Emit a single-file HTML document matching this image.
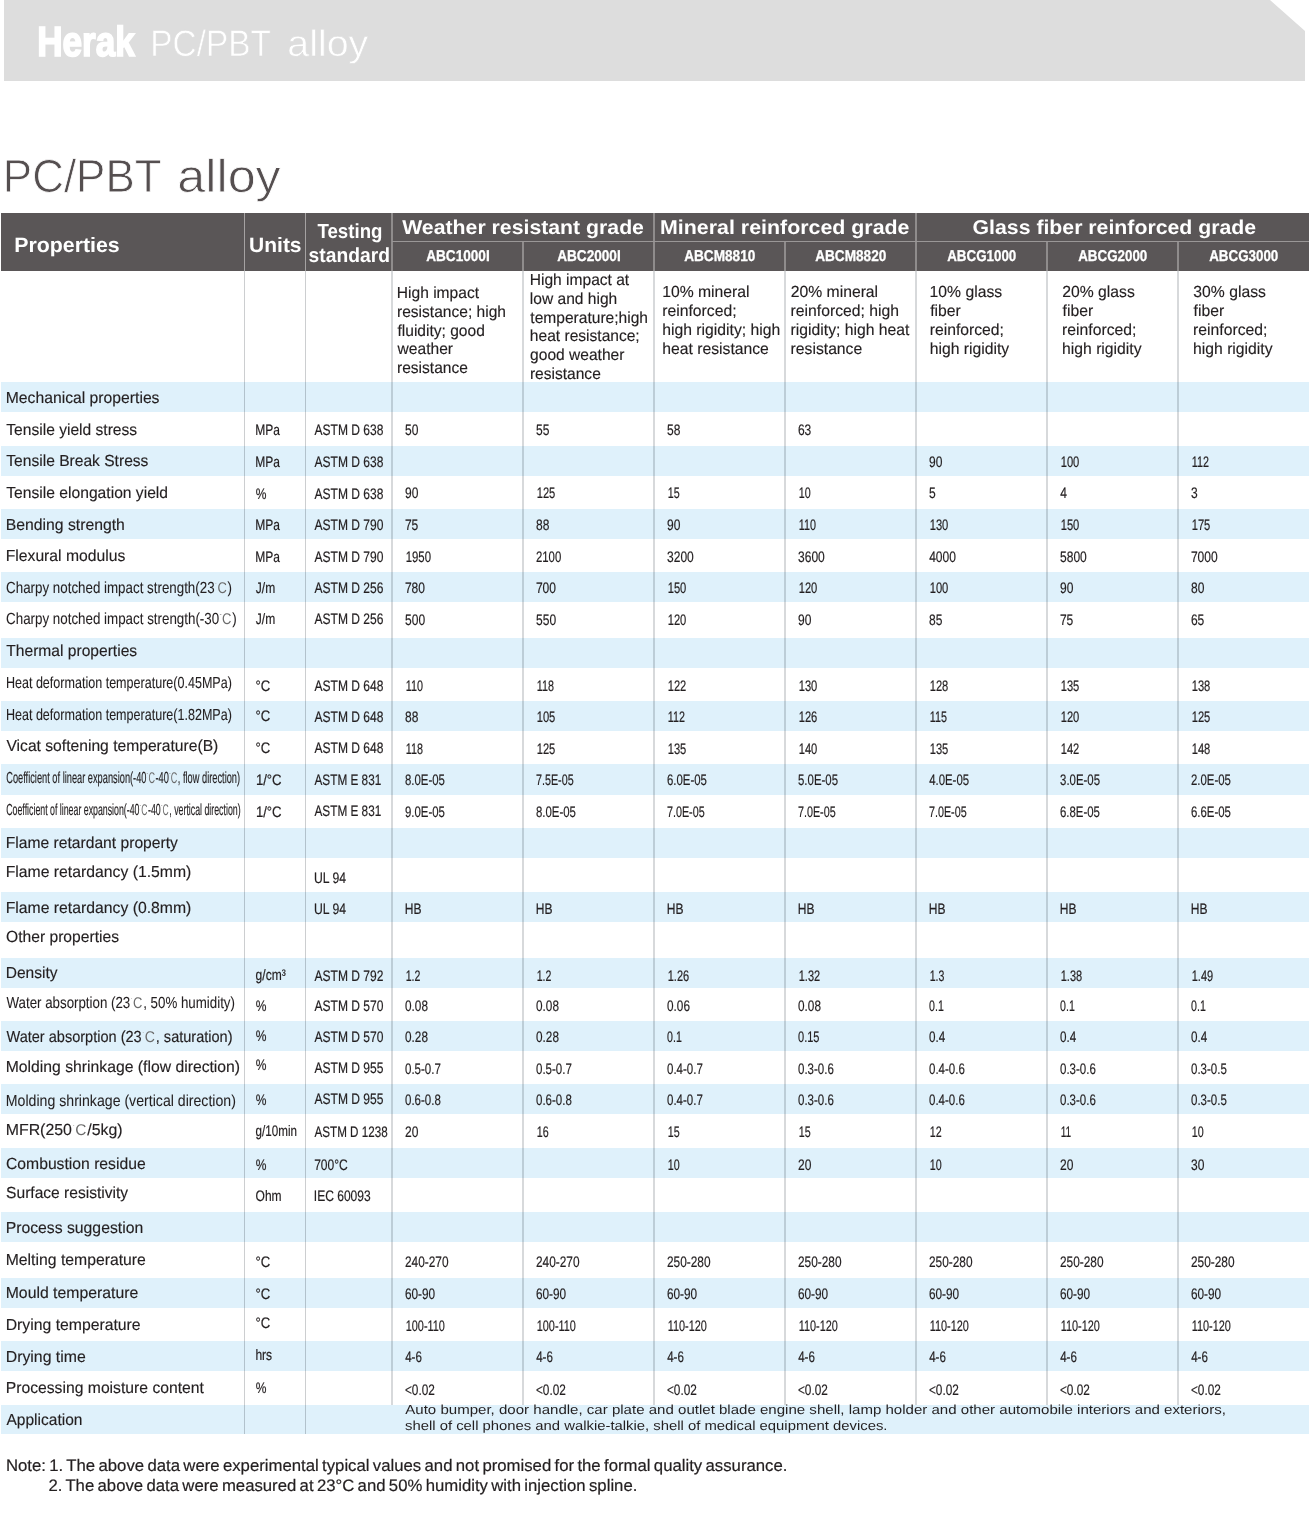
<!DOCTYPE html>
<html lang="en"><head><meta charset="utf-8"><title>Herak PC/PBT alloy</title>
<style>
html,body{margin:0;padding:0;background:#fff;}
body{position:relative;width:1310px;height:1519px;overflow:hidden;font-family:"Liberation Sans",sans-serif;color:#231f20;}
header,h1,section,footer,.thead,.row{display:block;margin:0;padding:0;font-weight:normal;font-size:16px;}
.t{position:absolute;white-space:nowrap;line-height:1;transform-origin:0 0;text-rendering:geometricPrecision;font-family:"Liberation Sans",sans-serif;}
.dc{position:relative;display:inline-block;color:#6a6a6a;font-size:.97em;padding:0 .06em 0 .22em;-webkit-text-stroke:0;font-family:"Liberation Sans",sans-serif;}
.dc i{position:absolute;left:.06em;top:.12em;width:1.4px;height:1.4px;border-radius:1px;background:#aaa;}
.n{font-size:16px;-webkit-text-stroke:0.15px #231f20;}
.c{font-size:15.2px;-webkit-text-stroke:0.2px #231f20;}
.w{color:#fff;}
.b{font-weight:bold;}
.banner{position:absolute;left:4px;top:0;width:1301px;height:81px;background:#dddddd;clip-path:polygon(0 0,1266px 0,1301px 31px,1301px 81px,0 81px);}
.hdr{position:absolute;left:1px;top:213px;width:1308px;height:58px;background:#5a5657;}
.band{position:absolute;left:1px;width:1308px;background:#dff1fb;}
.vl{position:absolute;width:2px;background:#d7d9db;mix-blend-mode:multiply;}
.hl{position:absolute;height:1px;background:#9a9797;}
.hv{position:absolute;width:2px;background:#8f8c8c;}
</style></head><body>
<header><div class="banner"></div>
<span class="t w b" style="left:37px;top:21px;transform:translateX(0.19px) scaleX(0.8369);font-size:42.0px;-webkit-text-stroke:1.7px #fff;">Herak</span>
<span class="t" style="left:150px;top:25px;transform:translateX(0.36px) scaleX(0.9009);font-size:37px;color:#ffffff;-webkit-text-stroke:0.6px #ddd;">PC/PBT</span>
<span class="t" style="left:287px;top:25px;transform:translateX(0.30px) scaleX(1.0636);font-size:37px;color:#ffffff;-webkit-text-stroke:0.6px #ddd;">alloy</span>
</header>
<h1><span class="t" style="left:2px;top:153px;transform:translateX(0.84px) scaleX(0.9472);font-size:46.4px;color:#554f50;-webkit-text-stroke:0.8px #fff;">PC/PBT</span><span class="t" style="left:177px;top:153px;transform:translateX(0.32px) scaleX(1.0840);font-size:46.4px;color:#554f50;-webkit-text-stroke:0.8px #fff;">alloy</span></h1>
<section class="table">
<div class="band" style="top:382px;height:30px"></div>
<div class="band" style="top:446px;height:30px"></div>
<div class="band" style="top:509px;height:30px"></div>
<div class="band" style="top:572px;height:30px"></div>
<div class="band" style="top:638px;height:30px"></div>
<div class="band" style="top:701px;height:30px"></div>
<div class="band" style="top:764px;height:31px"></div>
<div class="band" style="top:828px;height:30px"></div>
<div class="band" style="top:892px;height:30px"></div>
<div class="band" style="top:958px;height:30px"></div>
<div class="band" style="top:1021px;height:30px"></div>
<div class="band" style="top:1084px;height:30px"></div>
<div class="band" style="top:1148px;height:30px"></div>
<div class="band" style="top:1212px;height:30px"></div>
<div class="band" style="top:1278px;height:30px"></div>
<div class="band" style="top:1341px;height:30px"></div>
<div class="band" style="top:1405px;height:29px"></div>
<div class="thead"><div class="hdr"></div>
<div class="hv" style="left:244px;width:1px;background:#a5a2a2;top:213px;height:58px"></div>
<div class="hv" style="left:305px;width:1px;background:#a5a2a2;top:213px;height:58px"></div>
<div class="hv" style="left:391px;top:213px;height:58px"></div>
<div class="hv" style="left:522px;top:242px;height:29px"></div>
<div class="hv" style="left:653px;top:213px;height:58px"></div>
<div class="hv" style="left:784px;top:242px;height:29px"></div>
<div class="hv" style="left:915px;top:213px;height:58px"></div>
<div class="hv" style="left:1046px;top:242px;height:29px"></div>
<div class="hv" style="left:1177px;top:242px;height:29px"></div>
<div class="hl" style="left:392px;top:241px;width:917px"></div>
<span class="t w b" style="left:14px;top:236px;transform:translateX(0.14px) scaleX(1.0265);font-size:20.8px;">Properties</span>
<span class="t w b" style="left:249px;top:236px;transform:translateX(0.04px) scaleX(1.0101);font-size:20.8px;">Units</span>
<span class="t w b" style="left:317px;top:222px;transform:translateX(0.47px) scaleX(0.9149);font-size:20.4px;">Testing</span>
<span class="t w b" style="left:308px;top:246px;transform:translateX(0.59px) scaleX(0.9445);font-size:20.4px;">standard</span>
<span class="t w b" style="left:402px;top:219px;transform:translateX(0.19px) scaleX(1.0685);font-size:19.9px;">Weather resistant grade</span>
<span class="t w b" style="left:660px;top:219px;transform:translateX(0.04px) scaleX(1.0747);font-size:19.9px;">Mineral reinforced grade</span>
<span class="t w b" style="left:972px;top:219px;transform:translateX(0.58px) scaleX(1.0685);font-size:19.9px;">Glass fiber reinforced grade</span>
<span class="t w b" style="left:426px;top:249px;transform:translateX(0.15px) scaleX(0.8728);font-size:15.6px;-webkit-text-stroke:0.3px #fff;">ABC1000I</span>
<span class="t w b" style="left:557px;top:249px;transform:translateX(0.15px) scaleX(0.8728);font-size:15.6px;-webkit-text-stroke:0.3px #fff;">ABC2000I</span>
<span class="t w b" style="left:684px;top:249px;transform:translateX(0.15px) scaleX(0.8739);font-size:15.6px;-webkit-text-stroke:0.3px #fff;">ABCM8810</span>
<span class="t w b" style="left:815px;top:249px;transform:translateX(0.15px) scaleX(0.8739);font-size:15.6px;-webkit-text-stroke:0.3px #fff;">ABCM8820</span>
<span class="t w b" style="left:947px;top:249px;transform:translateX(0.20px) scaleX(0.8570);font-size:15.6px;-webkit-text-stroke:0.3px #fff;">ABCG1000</span>
<span class="t w b" style="left:1078px;top:249px;transform:translateX(0.20px) scaleX(0.8570);font-size:15.6px;-webkit-text-stroke:0.3px #fff;">ABCG2000</span>
<span class="t w b" style="left:1209px;top:249px;transform:translateX(0.20px) scaleX(0.8570);font-size:15.6px;-webkit-text-stroke:0.3px #fff;">ABCG3000</span>
</div>
<div class="vl" style="left:244px;width:1px;background:#cccED0;top:271px;height:1163px"></div>
<div class="vl" style="left:305px;width:1px;background:#cccED0;top:271px;height:1163px"></div>
<div class="vl" style="left:391px;top:271px;height:1134px"></div>
<div class="vl" style="left:522px;top:271px;height:1134px"></div>
<div class="vl" style="left:653px;top:271px;height:1134px"></div>
<div class="vl" style="left:784px;top:271px;height:1134px"></div>
<div class="vl" style="left:915px;top:271px;height:1134px"></div>
<div class="vl" style="left:1046px;top:271px;height:1134px"></div>
<div class="vl" style="left:1177px;top:271px;height:1134px"></div>
<div class="row"><span class="t n" style="left:396px;top:286px;transform:translateX(0.83px) scaleX(0.9725);">High impact</span><span class="t n" style="left:396px;top:305px;transform:translateX(0.98px) scaleX(0.9725);">resistance; high</span><span class="t n" style="left:397px;top:324px;transform:translateX(0.47px) scaleX(0.9725);">fluidity; good</span><span class="t n" style="left:397px;top:342px;transform:translateX(0.61px) scaleX(0.9725);">weather</span><span class="t n" style="left:396px;top:361px;transform:translateX(0.98px) scaleX(0.9725);">resistance</span><span class="t n" style="left:529px;top:273px;transform:translateX(0.73px) scaleX(0.9725);">High impact at</span><span class="t n" style="left:529px;top:292px;transform:translateX(0.87px) scaleX(0.9725);">low and high</span><span class="t n" style="left:530px;top:311px;transform:translateX(0.36px) scaleX(0.9725);">temperature;high</span><span class="t n" style="left:529px;top:329px;transform:translateX(0.85px) scaleX(0.9725);">heat resistance;</span><span class="t n" style="left:530px;top:348px;transform:translateX(0.11px) scaleX(0.9725);">good weather</span><span class="t n" style="left:529px;top:367px;transform:translateX(0.88px) scaleX(0.9725);">resistance</span><span class="t n" style="left:662px;top:285px;transform:translateX(0.18px) scaleX(0.9825);">10% mineral</span><span class="t n" style="left:662px;top:304px;transform:translateX(0.27px) scaleX(0.9825);">reinforced;</span><span class="t n" style="left:662px;top:323px;transform:translateX(0.25px) scaleX(0.9825);">high rigidity; high</span><span class="t n" style="left:662px;top:342px;transform:translateX(0.25px) scaleX(0.9825);">heat resistance</span><span class="t n" style="left:790px;top:285px;transform:translateX(0.73px) scaleX(0.9825);">20% mineral</span><span class="t n" style="left:790px;top:304px;transform:translateX(0.57px) scaleX(0.9825);">reinforced; high</span><span class="t n" style="left:790px;top:323px;transform:translateX(0.57px) scaleX(0.9825);">rigidity; high heat</span><span class="t n" style="left:790px;top:342px;transform:translateX(0.57px) scaleX(0.9825);">resistance</span><span class="t n" style="left:929px;top:285px;transform:translateX(0.58px) scaleX(0.9825);">10% glass</span><span class="t n" style="left:930px;top:304px;transform:translateX(0.17px) scaleX(0.9825);">fiber</span><span class="t n" style="left:929px;top:323px;transform:translateX(0.67px) scaleX(0.9825);">reinforced;</span><span class="t n" style="left:929px;top:342px;transform:translateX(0.65px) scaleX(0.9825);">high rigidity</span><span class="t n" style="left:1062px;top:285px;transform:translateX(0.23px) scaleX(0.9825);">20% glass</span><span class="t n" style="left:1062px;top:304px;transform:translateX(0.57px) scaleX(0.9825);">fiber</span><span class="t n" style="left:1062px;top:323px;transform:translateX(0.07px) scaleX(0.9825);">reinforced;</span><span class="t n" style="left:1062px;top:342px;transform:translateX(0.05px) scaleX(0.9825);">high rigidity</span><span class="t n" style="left:1193px;top:285px;transform:translateX(0.34px) scaleX(0.9825);">30% glass</span><span class="t n" style="left:1193px;top:304px;transform:translateX(0.57px) scaleX(0.9825);">fiber</span><span class="t n" style="left:1193px;top:323px;transform:translateX(0.07px) scaleX(0.9825);">reinforced;</span><span class="t n" style="left:1193px;top:342px;transform:translateX(0.05px) scaleX(0.9825);">high rigidity</span></div>
<div class="row"><span class="t n" style="left:5px;top:391px;transform:translateX(0.73px) scaleX(0.9823);">Mechanical properties</span></div>
<div class="row"><span class="t n" style="left:6px;top:423px;transform:translateX(0.29px) scaleX(0.9742);">Tensile yield stress</span><span class="t c" style="left:255px;top:423px;transform:translateX(0.31px) scaleX(0.7924);">MPa</span><span class="t c" style="left:314px;top:423px;transform:translateX(0.49px) scaleX(0.7925);">ASTM D 638</span><span class="t c" style="left:405px;top:423px;transform:translateX(0.01px) scaleX(0.7920);">50</span><span class="t c" style="left:536px;top:423px;transform:translateX(0.01px) scaleX(0.7920);">55</span><span class="t c" style="left:667px;top:423px;transform:translateX(0.01px) scaleX(0.7920);">58</span><span class="t c" style="left:797px;top:423px;transform:translateX(0.93px) scaleX(0.7920);">63</span></div>
<div class="row"><span class="t n" style="left:6px;top:454px;transform:translateX(0.29px) scaleX(0.9744);">Tensile Break Stress</span><span class="t c" style="left:255px;top:455px;transform:translateX(0.31px) scaleX(0.7924);">MPa</span><span class="t c" style="left:314px;top:455px;transform:translateX(0.49px) scaleX(0.7925);">ASTM D 638</span><span class="t c" style="left:928px;top:455px;transform:translateX(0.96px) scaleX(0.7920);">90</span><span class="t c" style="left:1060px;top:455px;transform:translateX(0.69px) scaleX(0.7352);">100</span><span class="t c" style="left:1191px;top:455px;transform:translateX(0.71px) scaleX(0.7094);">112</span></div>
<div class="row"><span class="t n" style="left:6px;top:486px;transform:translateX(0.29px) scaleX(0.9777);">Tensile elongation yield</span><span class="t c" style="left:255px;top:487px;transform:translateX(0.64px) scaleX(0.7918);">%</span><span class="t c" style="left:314px;top:487px;transform:translateX(0.49px) scaleX(0.7925);">ASTM D 638</span><span class="t c" style="left:404px;top:486px;transform:translateX(0.96px) scaleX(0.7920);">90</span><span class="t c" style="left:536px;top:486px;transform:translateX(0.69px) scaleX(0.7352);">125</span><span class="t c" style="left:667px;top:486px;transform:translateX(0.71px) scaleX(0.7061);">15</span><span class="t c" style="left:798px;top:486px;transform:translateX(0.71px) scaleX(0.7061);">10</span><span class="t c" style="left:929px;top:486px;transform:translateX(0.01px) scaleX(0.7920);">5</span><span class="t c" style="left:1060px;top:486px;transform:translateX(0.13px) scaleX(0.7920);">4</span><span class="t c" style="left:1191px;top:486px;transform:translateX(0.02px) scaleX(0.7920);">3</span></div>
<div class="row"><span class="t n" style="left:5px;top:518px;transform:translateX(0.72px) scaleX(0.9846);">Bending strength</span><span class="t c" style="left:255px;top:518px;transform:translateX(0.31px) scaleX(0.7924);">MPa</span><span class="t c" style="left:314px;top:518px;transform:translateX(0.49px) scaleX(0.7925);">ASTM D 790</span><span class="t c" style="left:404px;top:518px;transform:translateX(0.93px) scaleX(0.7920);">75</span><span class="t c" style="left:535px;top:518px;transform:translateX(0.99px) scaleX(0.7920);">88</span><span class="t c" style="left:666px;top:518px;transform:translateX(0.96px) scaleX(0.7920);">90</span><span class="t c" style="left:798px;top:518px;transform:translateX(0.71px) scaleX(0.7094);">110</span><span class="t c" style="left:929px;top:518px;transform:translateX(0.69px) scaleX(0.7352);">130</span><span class="t c" style="left:1060px;top:518px;transform:translateX(0.69px) scaleX(0.7352);">150</span><span class="t c" style="left:1191px;top:518px;transform:translateX(0.69px) scaleX(0.7352);">175</span></div>
<div class="row"><span class="t n" style="left:5px;top:549px;transform:translateX(0.73px) scaleX(0.9813);">Flexural modulus</span><span class="t c" style="left:255px;top:550px;transform:translateX(0.31px) scaleX(0.7924);">MPa</span><span class="t c" style="left:314px;top:550px;transform:translateX(0.49px) scaleX(0.7925);">ASTM D 790</span><span class="t c" style="left:405px;top:550px;transform:translateX(0.68px) scaleX(0.7494);">1950</span><span class="t c" style="left:535px;top:550px;transform:translateX(0.96px) scaleX(0.7494);">2100</span><span class="t c" style="left:667px;top:550px;transform:translateX(0.02px) scaleX(0.7923);">3200</span><span class="t c" style="left:798px;top:550px;transform:translateX(0.02px) scaleX(0.7923);">3600</span><span class="t c" style="left:929px;top:550px;transform:translateX(0.13px) scaleX(0.7923);">4000</span><span class="t c" style="left:1060px;top:550px;transform:translateX(0.01px) scaleX(0.7923);">5800</span><span class="t c" style="left:1190px;top:550px;transform:translateX(0.93px) scaleX(0.7923);">7000</span></div>
<div class="row"><span class="t n" style="left:6px;top:581px;transform:translateX(0.09px) scaleX(0.8342);-webkit-text-stroke:0.07px #231f20;">Charpy notched impact strength(23<span class="dc"><i></i>C</span>)</span><span class="t c" style="left:255px;top:581px;transform:translateX(0.79px) scaleX(0.7924);">J/m</span><span class="t c" style="left:314px;top:581px;transform:translateX(0.49px) scaleX(0.7925);">ASTM D 256</span><span class="t c" style="left:404px;top:581px;transform:translateX(0.93px) scaleX(0.7924);">780</span><span class="t c" style="left:535px;top:581px;transform:translateX(0.93px) scaleX(0.7924);">700</span><span class="t c" style="left:667px;top:581px;transform:translateX(0.69px) scaleX(0.7352);">150</span><span class="t c" style="left:798px;top:581px;transform:translateX(0.69px) scaleX(0.7352);">120</span><span class="t c" style="left:929px;top:581px;transform:translateX(0.69px) scaleX(0.7352);">100</span><span class="t c" style="left:1059px;top:581px;transform:translateX(0.96px) scaleX(0.7920);">90</span><span class="t c" style="left:1190px;top:581px;transform:translateX(0.99px) scaleX(0.7920);">80</span></div>
<div class="row"><span class="t n" style="left:6px;top:612px;transform:translateX(0.09px) scaleX(0.8348);-webkit-text-stroke:0.07px #231f20;">Charpy notched impact strength(-30<span class="dc"><i></i>C</span>)</span><span class="t c" style="left:255px;top:612px;transform:translateX(0.79px) scaleX(0.7924);">J/m</span><span class="t c" style="left:314px;top:612px;transform:translateX(0.49px) scaleX(0.7925);">ASTM D 256</span><span class="t c" style="left:405px;top:613px;transform:translateX(0.01px) scaleX(0.7924);">500</span><span class="t c" style="left:536px;top:613px;transform:translateX(0.01px) scaleX(0.7924);">550</span><span class="t c" style="left:667px;top:613px;transform:translateX(0.69px) scaleX(0.7352);">120</span><span class="t c" style="left:797px;top:613px;transform:translateX(0.96px) scaleX(0.7920);">90</span><span class="t c" style="left:928px;top:613px;transform:translateX(0.99px) scaleX(0.7920);">85</span><span class="t c" style="left:1059px;top:613px;transform:translateX(0.93px) scaleX(0.7920);">75</span><span class="t c" style="left:1190px;top:613px;transform:translateX(0.93px) scaleX(0.7920);">65</span></div>
<div class="row"><span class="t n" style="left:6px;top:644px;transform:translateX(0.29px) scaleX(0.9742);">Thermal properties</span></div>
<div class="row"><span class="t n" style="left:5px;top:676px;transform:translateX(0.88px) scaleX(0.7844);-webkit-text-stroke:0.09px #231f20;">Heat deformation temperature(0.45MPa)</span><span class="t c" style="left:255px;top:679px;transform:translateX(0.43px) scaleX(0.8610);">°C</span><span class="t c" style="left:314px;top:679px;transform:translateX(0.49px) scaleX(0.7925);">ASTM D 648</span><span class="t c" style="left:405px;top:679px;transform:translateX(0.71px) scaleX(0.7094);">110</span><span class="t c" style="left:536px;top:679px;transform:translateX(0.71px) scaleX(0.7094);">118</span><span class="t c" style="left:667px;top:679px;transform:translateX(0.69px) scaleX(0.7352);">122</span><span class="t c" style="left:798px;top:679px;transform:translateX(0.69px) scaleX(0.7352);">130</span><span class="t c" style="left:929px;top:679px;transform:translateX(0.69px) scaleX(0.7352);">128</span><span class="t c" style="left:1060px;top:679px;transform:translateX(0.69px) scaleX(0.7352);">135</span><span class="t c" style="left:1191px;top:679px;transform:translateX(0.69px) scaleX(0.7352);">138</span></div>
<div class="row"><span class="t n" style="left:5px;top:708px;transform:translateX(0.88px) scaleX(0.7844);-webkit-text-stroke:0.09px #231f20;">Heat deformation temperature(1.82MPa)</span><span class="t c" style="left:255px;top:709px;transform:translateX(0.43px) scaleX(0.8610);">°C</span><span class="t c" style="left:314px;top:710px;transform:translateX(0.49px) scaleX(0.7925);">ASTM D 648</span><span class="t c" style="left:404px;top:710px;transform:translateX(0.99px) scaleX(0.7920);">88</span><span class="t c" style="left:536px;top:710px;transform:translateX(0.69px) scaleX(0.7352);">105</span><span class="t c" style="left:667px;top:710px;transform:translateX(0.71px) scaleX(0.7094);">112</span><span class="t c" style="left:798px;top:710px;transform:translateX(0.69px) scaleX(0.7352);">126</span><span class="t c" style="left:929px;top:710px;transform:translateX(0.71px) scaleX(0.7094);">115</span><span class="t c" style="left:1060px;top:710px;transform:translateX(0.69px) scaleX(0.7352);">120</span><span class="t c" style="left:1191px;top:710px;transform:translateX(0.69px) scaleX(0.7352);">125</span></div>
<div class="row"><span class="t n" style="left:6px;top:739px;transform:translateX(0.46px) scaleX(0.9776);">Vicat softening temperature(B)</span><span class="t c" style="left:255px;top:741px;transform:translateX(0.43px) scaleX(0.8610);">°C</span><span class="t c" style="left:314px;top:741px;transform:translateX(0.49px) scaleX(0.7925);">ASTM D 648</span><span class="t c" style="left:405px;top:742px;transform:translateX(0.71px) scaleX(0.7094);">118</span><span class="t c" style="left:536px;top:742px;transform:translateX(0.69px) scaleX(0.7352);">125</span><span class="t c" style="left:667px;top:742px;transform:translateX(0.69px) scaleX(0.7352);">135</span><span class="t c" style="left:798px;top:742px;transform:translateX(0.69px) scaleX(0.7352);">140</span><span class="t c" style="left:929px;top:742px;transform:translateX(0.69px) scaleX(0.7352);">135</span><span class="t c" style="left:1060px;top:742px;transform:translateX(0.69px) scaleX(0.7352);">142</span><span class="t c" style="left:1191px;top:742px;transform:translateX(0.69px) scaleX(0.7352);">148</span></div>
<div class="row"><span class="t n" style="left:6px;top:771px;transform:translateX(0.22px) scaleX(0.5784);-webkit-text-stroke:0.17px #231f20;">Coefficient of linear expansion(-40<span class="dc"><i></i>C</span>-40<span class="dc"><i></i>C</span>, flow direction)</span><span class="t c" style="left:255px;top:773px;transform:translateX(0.90px) scaleX(0.8648);">1/°C</span><span class="t c" style="left:314px;top:773px;transform:translateX(0.49px) scaleX(0.7756);">ASTM E 831</span><span class="t c" style="left:405px;top:773px;transform:translateX(0.00px) scaleX(0.7508);">8.0E-05</span><span class="t c" style="left:535px;top:773px;transform:translateX(0.97px) scaleX(0.7076);">7.5E-05</span><span class="t c" style="left:666px;top:773px;transform:translateX(0.95px) scaleX(0.7508);">6.0E-05</span><span class="t c" style="left:798px;top:773px;transform:translateX(0.03px) scaleX(0.7508);">5.0E-05</span><span class="t c" style="left:929px;top:773px;transform:translateX(0.14px) scaleX(0.7508);">4.0E-05</span><span class="t c" style="left:1060px;top:773px;transform:translateX(0.04px) scaleX(0.7508);">3.0E-05</span><span class="t c" style="left:1190px;top:773px;transform:translateX(0.96px) scaleX(0.7508);">2.0E-05</span></div>
<div class="row"><span class="t n" style="left:6px;top:803px;transform:translateX(0.23px) scaleX(0.5495);-webkit-text-stroke:0.18px #231f20;">Coefficient of linear expansion(-40<span class="dc"><i></i>C</span>-40<span class="dc"><i></i>C</span>, vertical direction)</span><span class="t c" style="left:255px;top:805px;transform:translateX(0.90px) scaleX(0.8648);">1/°C</span><span class="t c" style="left:314px;top:804px;transform:translateX(0.49px) scaleX(0.7756);">ASTM E 831</span><span class="t c" style="left:404px;top:805px;transform:translateX(0.98px) scaleX(0.7508);">9.0E-05</span><span class="t c" style="left:536px;top:805px;transform:translateX(0.00px) scaleX(0.7508);">8.0E-05</span><span class="t c" style="left:666px;top:805px;transform:translateX(0.97px) scaleX(0.7076);">7.0E-05</span><span class="t c" style="left:797px;top:805px;transform:translateX(0.97px) scaleX(0.7076);">7.0E-05</span><span class="t c" style="left:928px;top:805px;transform:translateX(0.97px) scaleX(0.7076);">7.0E-05</span><span class="t c" style="left:1059px;top:805px;transform:translateX(0.95px) scaleX(0.7508);">6.8E-05</span><span class="t c" style="left:1190px;top:805px;transform:translateX(0.95px) scaleX(0.7508);">6.6E-05</span></div>
<div class="row"><span class="t n" style="left:5px;top:836px;transform:translateX(0.73px) scaleX(0.9775);">Flame retardant property</span></div>
<div class="row"><span class="t n" style="left:5px;top:865px;transform:translateX(0.72px) scaleX(0.9845);">Flame retardancy (1.5mm)</span><span class="t c" style="left:313px;top:871px;transform:translateX(0.93px) scaleX(0.8036);">UL 94</span></div>
<div class="row"><span class="t n" style="left:5px;top:901px;transform:translateX(0.72px) scaleX(0.9845);">Flame retardancy (0.8mm)</span><span class="t c" style="left:313px;top:902px;transform:translateX(0.93px) scaleX(0.8036);">UL 94</span><span class="t c" style="left:404px;top:902px;transform:translateX(0.71px) scaleX(0.7920);">HB</span><span class="t c" style="left:535px;top:902px;transform:translateX(0.71px) scaleX(0.7920);">HB</span><span class="t c" style="left:666px;top:902px;transform:translateX(0.71px) scaleX(0.7920);">HB</span><span class="t c" style="left:797px;top:902px;transform:translateX(0.71px) scaleX(0.7920);">HB</span><span class="t c" style="left:928px;top:902px;transform:translateX(0.71px) scaleX(0.7920);">HB</span><span class="t c" style="left:1059px;top:902px;transform:translateX(0.71px) scaleX(0.7920);">HB</span><span class="t c" style="left:1190px;top:902px;transform:translateX(0.71px) scaleX(0.7920);">HB</span></div>
<div class="row"><span class="t n" style="left:6px;top:930px;transform:translateX(0.06px) scaleX(0.9766);">Other properties</span></div>
<div class="row"><span class="t n" style="left:5px;top:966px;transform:translateX(0.74px) scaleX(0.9709);">Density</span><span class="t c" style="left:255px;top:968px;transform:translateX(0.60px) scaleX(0.7926);">g/cm³</span><span class="t c" style="left:314px;top:969px;transform:translateX(0.49px) scaleX(0.7925);">ASTM D 792</span><span class="t c" style="left:405px;top:969px;transform:translateX(0.71px) scaleX(0.6986);">1.2</span><span class="t c" style="left:536px;top:969px;transform:translateX(0.71px) scaleX(0.6986);">1.2</span><span class="t c" style="left:667px;top:969px;transform:translateX(0.70px) scaleX(0.7257);">1.26</span><span class="t c" style="left:798px;top:969px;transform:translateX(0.70px) scaleX(0.7257);">1.32</span><span class="t c" style="left:929px;top:969px;transform:translateX(0.71px) scaleX(0.6986);">1.3</span><span class="t c" style="left:1060px;top:969px;transform:translateX(0.70px) scaleX(0.7257);">1.38</span><span class="t c" style="left:1191px;top:969px;transform:translateX(0.70px) scaleX(0.7257);">1.49</span></div>
<div class="row"><span class="t n" style="left:6px;top:996px;transform:translateX(0.46px) scaleX(0.8320);-webkit-text-stroke:0.07px #231f20;">Water absorption (23<span class="dc"><i></i>C</span>, 50% humidity)</span><span class="t c" style="left:255px;top:999px;transform:translateX(0.64px) scaleX(0.7918);">%</span><span class="t c" style="left:314px;top:999px;transform:translateX(0.49px) scaleX(0.7925);">ASTM D 570</span><span class="t c" style="left:405px;top:999px;transform:translateX(0.02px) scaleX(0.7748);">0.08</span><span class="t c" style="left:536px;top:999px;transform:translateX(0.02px) scaleX(0.7748);">0.08</span><span class="t c" style="left:667px;top:999px;transform:translateX(0.02px) scaleX(0.7748);">0.06</span><span class="t c" style="left:798px;top:999px;transform:translateX(0.02px) scaleX(0.7748);">0.08</span><span class="t c" style="left:929px;top:999px;transform:translateX(0.05px) scaleX(0.6986);">0.1</span><span class="t c" style="left:1060px;top:999px;transform:translateX(0.05px) scaleX(0.6986);">0.1</span><span class="t c" style="left:1191px;top:999px;transform:translateX(0.05px) scaleX(0.6986);">0.1</span></div>
<div class="row"><span class="t n" style="left:6px;top:1030px;transform:translateX(0.46px) scaleX(0.9085);">Water absorption (23<span class="dc"><i></i>C</span>, saturation)</span><span class="t c" style="left:255px;top:1029px;transform:translateX(0.64px) scaleX(0.7918);">%</span><span class="t c" style="left:314px;top:1030px;transform:translateX(0.49px) scaleX(0.7925);">ASTM D 570</span><span class="t c" style="left:405px;top:1030px;transform:translateX(0.02px) scaleX(0.7748);">0.28</span><span class="t c" style="left:536px;top:1030px;transform:translateX(0.02px) scaleX(0.7748);">0.28</span><span class="t c" style="left:667px;top:1030px;transform:translateX(0.05px) scaleX(0.6986);">0.1</span><span class="t c" style="left:798px;top:1030px;transform:translateX(0.04px) scaleX(0.7257);">0.15</span><span class="t c" style="left:929px;top:1030px;transform:translateX(0.03px) scaleX(0.7674);">0.4</span><span class="t c" style="left:1060px;top:1030px;transform:translateX(0.03px) scaleX(0.7674);">0.4</span><span class="t c" style="left:1191px;top:1030px;transform:translateX(0.03px) scaleX(0.7674);">0.4</span></div>
<div class="row"><span class="t n" style="left:5px;top:1060px;transform:translateX(0.73px) scaleX(0.9834);">Molding shrinkage (flow direction)</span><span class="t c" style="left:255px;top:1058px;transform:translateX(0.64px) scaleX(0.7918);">%</span><span class="t c" style="left:314px;top:1061px;transform:translateX(0.49px) scaleX(0.7925);">ASTM D 955</span><span class="t c" style="left:405px;top:1062px;transform:translateX(0.03px) scaleX(0.7570);">0.5-0.7</span><span class="t c" style="left:536px;top:1062px;transform:translateX(0.03px) scaleX(0.7570);">0.5-0.7</span><span class="t c" style="left:667px;top:1062px;transform:translateX(0.03px) scaleX(0.7570);">0.4-0.7</span><span class="t c" style="left:798px;top:1062px;transform:translateX(0.03px) scaleX(0.7570);">0.3-0.6</span><span class="t c" style="left:929px;top:1062px;transform:translateX(0.03px) scaleX(0.7570);">0.4-0.6</span><span class="t c" style="left:1060px;top:1062px;transform:translateX(0.03px) scaleX(0.7570);">0.3-0.6</span><span class="t c" style="left:1191px;top:1062px;transform:translateX(0.03px) scaleX(0.7570);">0.3-0.5</span></div>
<div class="row"><span class="t n" style="left:5px;top:1094px;transform:translateX(0.80px) scaleX(0.8832);-webkit-text-stroke:0.05px #231f20;">Molding shrinkage (vertical direction)</span><span class="t c" style="left:255px;top:1093px;transform:translateX(0.64px) scaleX(0.7918);">%</span><span class="t c" style="left:314px;top:1092px;transform:translateX(0.49px) scaleX(0.7925);">ASTM D 955</span><span class="t c" style="left:405px;top:1093px;transform:translateX(0.03px) scaleX(0.7570);">0.6-0.8</span><span class="t c" style="left:536px;top:1093px;transform:translateX(0.03px) scaleX(0.7570);">0.6-0.8</span><span class="t c" style="left:667px;top:1093px;transform:translateX(0.03px) scaleX(0.7570);">0.4-0.7</span><span class="t c" style="left:798px;top:1093px;transform:translateX(0.03px) scaleX(0.7570);">0.3-0.6</span><span class="t c" style="left:929px;top:1093px;transform:translateX(0.03px) scaleX(0.7570);">0.4-0.6</span><span class="t c" style="left:1060px;top:1093px;transform:translateX(0.03px) scaleX(0.7570);">0.3-0.6</span><span class="t c" style="left:1191px;top:1093px;transform:translateX(0.03px) scaleX(0.7570);">0.3-0.5</span></div>
<div class="row"><span class="t n" style="left:5px;top:1123px;transform:translateX(0.72px) scaleX(0.9921);">MFR(250<span class="dc"><i></i>C</span>/5kg)</span><span class="t c" style="left:255px;top:1124px;transform:translateX(0.61px) scaleX(0.7655);">g/10min</span><span class="t c" style="left:314px;top:1125px;transform:translateX(0.49px) scaleX(0.7677);">ASTM D 1238</span><span class="t c" style="left:404px;top:1125px;transform:translateX(0.94px) scaleX(0.7920);">20</span><span class="t c" style="left:536px;top:1125px;transform:translateX(0.71px) scaleX(0.7061);">16</span><span class="t c" style="left:667px;top:1125px;transform:translateX(0.71px) scaleX(0.7061);">15</span><span class="t c" style="left:798px;top:1125px;transform:translateX(0.71px) scaleX(0.7061);">15</span><span class="t c" style="left:929px;top:1125px;transform:translateX(0.71px) scaleX(0.7061);">12</span><span class="t c" style="left:1060px;top:1125px;transform:translateX(0.74px) scaleX(0.6651);">11</span><span class="t c" style="left:1191px;top:1125px;transform:translateX(0.71px) scaleX(0.7061);">10</span></div>
<div class="row"><span class="t n" style="left:6px;top:1157px;transform:translateX(0.02px) scaleX(0.9810);">Combustion residue</span><span class="t c" style="left:255px;top:1158px;transform:translateX(0.64px) scaleX(0.7918);">%</span><span class="t c" style="left:314px;top:1158px;transform:translateX(0.13px) scaleX(0.7924);">700°C</span><span class="t c" style="left:667px;top:1158px;transform:translateX(0.71px) scaleX(0.7061);">10</span><span class="t c" style="left:797px;top:1158px;transform:translateX(0.94px) scaleX(0.7920);">20</span><span class="t c" style="left:929px;top:1158px;transform:translateX(0.71px) scaleX(0.7061);">10</span><span class="t c" style="left:1059px;top:1158px;transform:translateX(0.94px) scaleX(0.7920);">20</span><span class="t c" style="left:1191px;top:1158px;transform:translateX(0.02px) scaleX(0.7920);">30</span></div>
<div class="row"><span class="t n" style="left:6px;top:1186px;transform:translateX(0.08px) scaleX(0.9734);">Surface resistivity</span><span class="t c" style="left:255px;top:1189px;transform:translateX(0.56px) scaleX(0.7923);">Ohm</span><span class="t c" style="left:313px;top:1189px;transform:translateX(0.83px) scaleX(0.7924);">IEC 60093</span></div>
<div class="row"><span class="t n" style="left:5px;top:1221px;transform:translateX(0.73px) scaleX(0.9841);">Process suggestion</span></div>
<div class="row"><span class="t n" style="left:5px;top:1253px;transform:translateX(0.72px) scaleX(0.9845);">Melting temperature</span><span class="t c" style="left:255px;top:1255px;transform:translateX(0.43px) scaleX(0.8610);">°C</span><span class="t c" style="left:404px;top:1255px;transform:translateX(0.94px) scaleX(0.7811);">240-270</span><span class="t c" style="left:535px;top:1255px;transform:translateX(0.94px) scaleX(0.7811);">240-270</span><span class="t c" style="left:666px;top:1255px;transform:translateX(0.94px) scaleX(0.7811);">250-280</span><span class="t c" style="left:797px;top:1255px;transform:translateX(0.94px) scaleX(0.7811);">250-280</span><span class="t c" style="left:928px;top:1255px;transform:translateX(0.94px) scaleX(0.7811);">250-280</span><span class="t c" style="left:1059px;top:1255px;transform:translateX(0.94px) scaleX(0.7811);">250-280</span><span class="t c" style="left:1190px;top:1255px;transform:translateX(0.94px) scaleX(0.7811);">250-280</span></div>
<div class="row"><span class="t n" style="left:5px;top:1286px;transform:translateX(0.72px) scaleX(0.9866);">Mould temperature</span><span class="t c" style="left:255px;top:1287px;transform:translateX(0.43px) scaleX(0.8610);">°C</span><span class="t c" style="left:404px;top:1287px;transform:translateX(0.94px) scaleX(0.7761);">60-90</span><span class="t c" style="left:535px;top:1287px;transform:translateX(0.94px) scaleX(0.7761);">60-90</span><span class="t c" style="left:666px;top:1287px;transform:translateX(0.94px) scaleX(0.7761);">60-90</span><span class="t c" style="left:797px;top:1287px;transform:translateX(0.94px) scaleX(0.7761);">60-90</span><span class="t c" style="left:928px;top:1287px;transform:translateX(0.94px) scaleX(0.7761);">60-90</span><span class="t c" style="left:1059px;top:1287px;transform:translateX(0.94px) scaleX(0.7761);">60-90</span><span class="t c" style="left:1190px;top:1287px;transform:translateX(0.94px) scaleX(0.7761);">60-90</span></div>
<div class="row"><span class="t n" style="left:5px;top:1318px;transform:translateX(0.72px) scaleX(0.9850);">Drying temperature</span><span class="t c" style="left:255px;top:1316px;transform:translateX(0.43px) scaleX(0.8610);">°C</span><span class="t c" style="left:405px;top:1319px;transform:translateX(0.70px) scaleX(0.7177);">100-110</span><span class="t c" style="left:536px;top:1319px;transform:translateX(0.70px) scaleX(0.7177);">100-110</span><span class="t c" style="left:667px;top:1319px;transform:translateX(0.70px) scaleX(0.7177);">110-120</span><span class="t c" style="left:798px;top:1319px;transform:translateX(0.70px) scaleX(0.7177);">110-120</span><span class="t c" style="left:929px;top:1319px;transform:translateX(0.70px) scaleX(0.7177);">110-120</span><span class="t c" style="left:1060px;top:1319px;transform:translateX(0.70px) scaleX(0.7177);">110-120</span><span class="t c" style="left:1191px;top:1319px;transform:translateX(0.70px) scaleX(0.7177);">110-120</span></div>
<div class="row"><span class="t n" style="left:5px;top:1350px;transform:translateX(0.72px) scaleX(0.9888);">Drying time</span><span class="t c" style="left:255px;top:1348px;transform:translateX(0.40px) scaleX(0.7921);">hrs</span><span class="t c" style="left:405px;top:1350px;transform:translateX(0.14px) scaleX(0.7639);">4-6</span><span class="t c" style="left:536px;top:1350px;transform:translateX(0.14px) scaleX(0.7639);">4-6</span><span class="t c" style="left:667px;top:1350px;transform:translateX(0.14px) scaleX(0.7639);">4-6</span><span class="t c" style="left:798px;top:1350px;transform:translateX(0.14px) scaleX(0.7639);">4-6</span><span class="t c" style="left:929px;top:1350px;transform:translateX(0.14px) scaleX(0.7639);">4-6</span><span class="t c" style="left:1060px;top:1350px;transform:translateX(0.14px) scaleX(0.7639);">4-6</span><span class="t c" style="left:1191px;top:1350px;transform:translateX(0.14px) scaleX(0.7639);">4-6</span></div>
<div class="row"><span class="t n" style="left:5px;top:1381px;transform:translateX(0.73px) scaleX(0.9818);">Processing moisture content</span><span class="t c" style="left:255px;top:1381px;transform:translateX(0.64px) scaleX(0.7918);">%</span><span class="t c" style="left:404px;top:1383px;transform:translateX(0.95px) scaleX(0.7788);">&lt;0.02</span><span class="t c" style="left:535px;top:1383px;transform:translateX(0.95px) scaleX(0.7788);">&lt;0.02</span><span class="t c" style="left:666px;top:1383px;transform:translateX(0.95px) scaleX(0.7788);">&lt;0.02</span><span class="t c" style="left:797px;top:1383px;transform:translateX(0.95px) scaleX(0.7788);">&lt;0.02</span><span class="t c" style="left:928px;top:1383px;transform:translateX(0.95px) scaleX(0.7788);">&lt;0.02</span><span class="t c" style="left:1059px;top:1383px;transform:translateX(0.95px) scaleX(0.7788);">&lt;0.02</span><span class="t c" style="left:1190px;top:1383px;transform:translateX(0.95px) scaleX(0.7788);">&lt;0.02</span></div>
<div class="row"><span class="t n" style="left:6px;top:1413px;transform:translateX(0.48px) scaleX(0.9701);">Application</span><span class="t" style="left:405px;top:1403px;transform:translateX(0.28px) scaleX(1.1411);font-size:13.2px;">Auto bumper, door handle, car plate and outlet blade engine shell, lamp holder and other automobile interiors and exteriors,</span><span class="t" style="left:405px;top:1419px;transform:translateX(0.05px) scaleX(1.1249);font-size:13.2px;">shell of cell phones and walkie-talkie, shell of medical equipment devices.</span></div>
</section>
<footer><span class="t" style="left:5px;top:1458px;transform:translateX(0.98px) scaleX(1.0084);font-size:16.6px;word-spacing:-1.3px;-webkit-text-stroke:0.2px #231f20;">Note: 1. The above data were experimental typical values and not promised for the formal quality assurance.</span><span class="t" style="left:48px;top:1478px;transform:translateX(0.40px) scaleX(1.0078);font-size:16.6px;word-spacing:-1.3px;-webkit-text-stroke:0.2px #231f20;">2. The above data were measured at 23°C and 50% humidity with injection spline.</span></footer>
</body></html>
